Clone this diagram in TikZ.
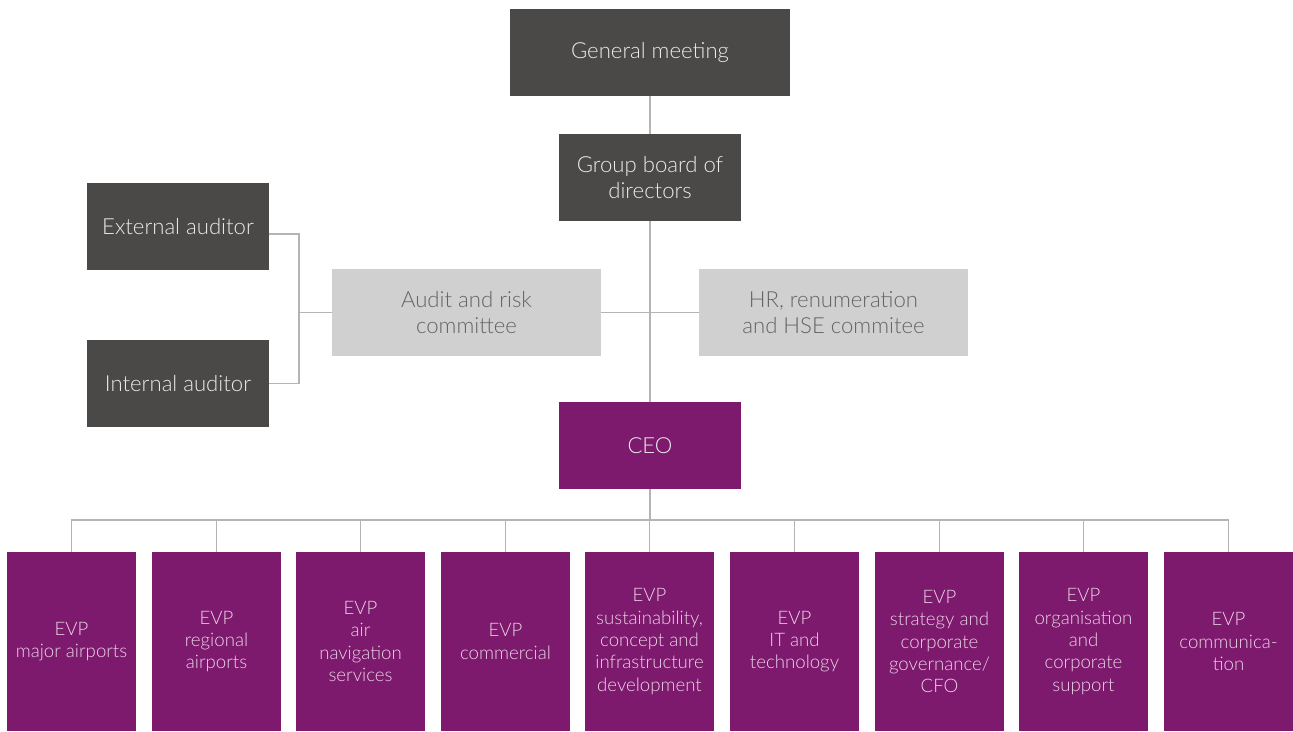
\documentclass[tikz,border=0pt]{standalone}
\usepackage{fontspec}
\setmainfont{Lato}[UprightFont={* Light},BoldFont={* Regular}]
\usepackage{tikz}
\usetikzlibrary{positioning}

\definecolor{boardgray}{HTML}{4A4948}
\definecolor{cttgray}{HTML}{D0D0D0}
\definecolor{evppurple}{HTML}{7D1A6E}
\definecolor{evptext}{HTML}{EBD3E6}
\definecolor{linegray}{HTML}{B4B4B4}

\begin{document}
\begin{tikzpicture}[
  x=0.02cm, y=-0.02cm,
  board/.style={rectangle,fill=boardgray,text=white!92!black,minimum width=3.64cm,
    minimum height=1.74cm,inner sep=0pt,align=center,font=\fontsize{12.6}{14.6}\selectfont},
  ctt/.style={rectangle,fill=cttgray,text=boardgray!85,minimum width=5.38cm,
    minimum height=1.74cm,inner sep=0pt,align=center,font=\fontsize{12.6}{14.6}\selectfont},
  evp/.style={rectangle,fill=evppurple,text=evptext,minimum width=2.58cm,
    minimum height=3.58cm,inner sep=0pt,align=center,font=\fontsize{10.6}{12.7}\selectfont},
  link/.style={draw=linegray,line width=0.6pt},
]
\useasboundingbox (0,0) rectangle (1293,731);

% ===== top: governance =====
\node[board,minimum width=5.6cm] (gm) at (650,52.5) {General meeting};
\node[board] (gb) at (650,177.5) {Group board of\\directors};
\node[board] (ext) at (178,226.5) {External auditor};
\node[board] (int) at (178,383.5) {Internal auditor};
\node[ctt] (arc) at (466.5,312.5) {Audit and risk\\committee};
\node[ctt] (hr) at (833.5,312.5) {HR, renumeration\\and HSE commitee};
\node[board,fill=evppurple] (ceo) at (650,445.5) {CEO};

\coordinate (brk) at (299,312.5);
\coordinate (bus) at (650,520);

\draw[link] (gm) -- (gb);
\draw[link] (gb) -- (ceo);
\draw[link] (arc) -- (hr);
\draw[link] (brk) -- (arc.west);
\draw[link] ([yshift=-0.15cm]ext.east) -| (brk) |- (int.east);
\draw[link] (ceo) -- (bus);

% ===== bottom: EVPs =====
\foreach \i/\x/\txt in {
  1/71.5/{EVP\\major airports},
  2/216.5/{EVP\\regional\\airports},
  3/360.5/{EVP\\air\\navigation\\services},
  4/505.5/{EVP\\commercial},
  5/649.5/{EVP\\sustainability,\\concept and\\infrastructure\\development},
  6/794.5/{EVP\\IT and\\technology},
  7/939.5/{EVP\\strategy and\\corporate\\governance/\\CFO},
  8/1083.5/{EVP\\organisation\\and\\corporate\\support},
  9/1228.5/{EVP\\communica-\\tion}}{
  \node[evp] (evp\i) at (\x,641.5) {\txt};
  \draw[link] (bus) -| (evp\i.north);
}
\end{tikzpicture}
\end{document}
